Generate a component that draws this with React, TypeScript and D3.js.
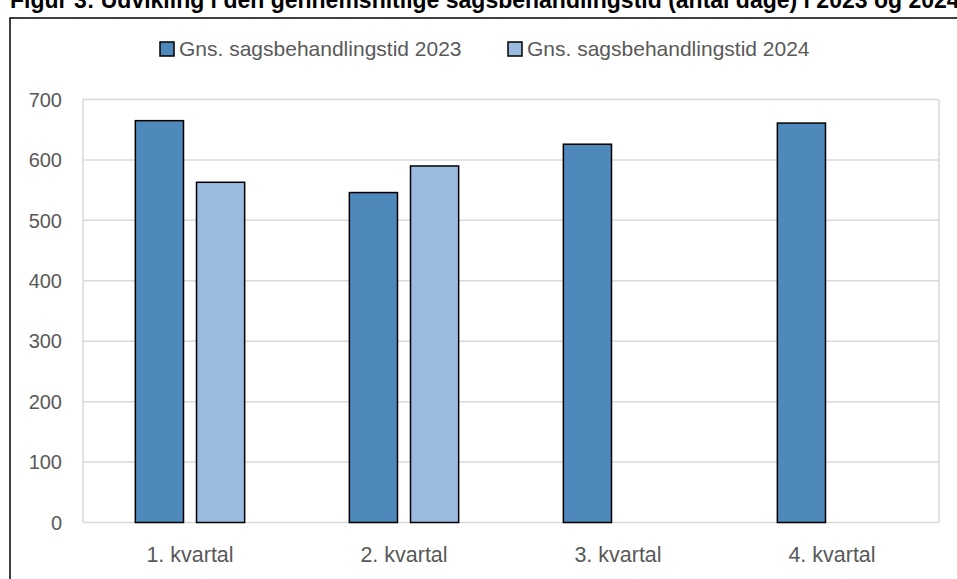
import React from "react";
import * as d3 from "d3";

const quarters = ["1. kvartal", "2. kvartal", "3. kvartal", "4. kvartal"];
const series2023 = [665, 546, 626, 661];
const series2024: (number | null)[] = [563, 590, null, null];
const seriesNames = ["Gns. sagsbehandlingstid 2023", "Gns. sagsbehandlingstid 2024"];
const seriesColors = ["#4f88bb", "#9bbae0"];
const yTicks = [0, 100, 200, 300, 400, 500, 600, 700];
const title =
  "Figur 3: Udvikling i den gennemsnitlige sagsbehandlingstid (antal dage) i 2023 og 2024";

const App = () => {
  const width = 957,
    height = 579;
  const left = 83,
    right = 939,
    top = 99.5,
    bottom = 522.5;

  const x = d3.scaleBand().domain(quarters).range([left, right]).paddingInner(0).paddingOuter(0);
  const y = d3.scaleLinear().domain([0, 700]).range([bottom, top]);

  const barW = x.bandwidth() * 0.225;
  const gap = barW * 0.27;

  const font = "Liberation Sans, Arial, sans-serif";

  return (
    <svg
      width={width}
      height={height}
      style={{ position: "fixed", left: 0, top: 0, background: "#fff" }}
    >
      <text x={10} y={8} fontFamily={font} fontWeight="bold" fontSize={23} fill="#000">
        {title}
      </text>
      <rect x={10} y={18} width={width + 20} height={height} fill="#fff" stroke="#000" strokeWidth={1.5} />

      {/* gridlines */}
      {yTicks.map((t) => (
        <line key={t} x1={left} x2={right} y1={y(t)} y2={y(t)} stroke="#d9d9d9" strokeWidth={1.5} />
      ))}
      <line x1={left} x2={left} y1={top} y2={bottom} stroke="#d9d9d9" strokeWidth={1.5} />
      <line x1={right} x2={right} y1={top} y2={bottom} stroke="#d9d9d9" strokeWidth={1.5} />

      {yTicks.map((t) => (
        <text
          key={t}
          x={62}
          y={y(t)}
          dy="0.36em"
          textAnchor="end"
          fontFamily={font}
          fontSize={20}
          fill="#595959"
        >
          {t}
        </text>
      ))}

      {quarters.map((q, i) => {
        const c = (x(q) as number) + x.bandwidth() / 2;
        const v1 = series2023[i];
        const v2 = series2024[i];
        return (
          <g key={q}>
            <rect
              x={c - gap / 2 - barW}
              y={y(v1)}
              width={barW}
              height={y(0) - y(v1)}
              fill={seriesColors[0]}
              stroke="#000"
              strokeWidth={1.5}
            />
            {v2 != null && (
              <rect
                x={c + gap / 2}
                y={y(v2)}
                width={barW}
                height={y(0) - y(v2)}
                fill={seriesColors[1]}
                stroke="#000"
                strokeWidth={1.5}
              />
            )}
            <text x={c} y={562} textAnchor="middle" fontFamily={font} fontSize={21.5} fill="#595959">
              {q}
            </text>
          </g>
        );
      })}

      {/* legend */}
      {seriesNames.map((n, i) => {
        const lx = i === 0 ? 160 : 508;
        return (
          <g key={n}>
            <rect x={lx} y={42} width={14} height={14} fill={seriesColors[i]} stroke="#000" strokeWidth={1.5} />
            <text x={lx + 19} y={56} fontFamily={font} fontSize={21} fill="#595959">
              {n}
            </text>
          </g>
        );
      })}
    </svg>
  );
};

export default App;
